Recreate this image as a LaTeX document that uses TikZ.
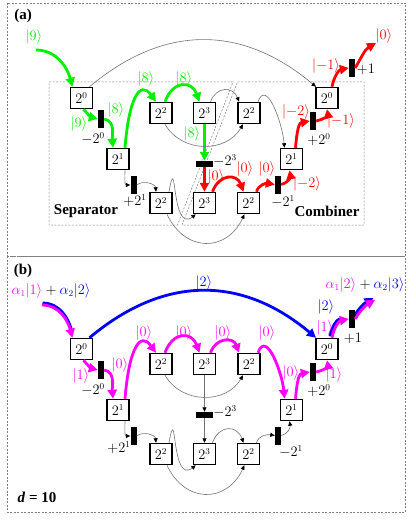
\documentclass[tikz,border=0pt]{standalone}
\usepackage{amsmath}
\usepackage{fontspec}
\newfontfamily\tagfont{Liberation Serif}
\usetikzlibrary{arrows.meta, positioning, calc, backgrounds}
\definecolor{pink}{RGB}{255,0,255}
\definecolor{lime}{RGB}{0,240,0}

\begin{document}
\begin{tikzpicture}[x=1pt, y=1pt,
    every node/.style={font=\fontsize{13.5}{16}\selectfont},
    stage/.style={draw, line width=1.5pt, fill=white, minimum width=22pt,
                  minimum height=21pt, inner sep=0pt},
    vbar/.style={fill=black, minimum width=6pt, minimum height=18pt, inner sep=0pt},
    hbar/.style={fill=black, minimum width=17pt, minimum height=6pt, inner sep=0pt},
    link/.style={black!55, line width=0.6pt, -{Triangle[length=4.5pt,width=4pt,black]}},
    beam/.style={line width=2.8pt, -{Triangle[length=9pt,width=9pt]}},
    panel/.style={black!50, line width=0.5pt, dash pattern=on 2pt off 1.5pt},
    tag/.style={font=\tagfont\bfseries\fontsize{15}{17}\selectfont},
    a-fwd/.style={beam, lime}, b-fwd/.style={beam, pink},
    a-down/.style={beam, lime}, b-down/.style={link},
    a-back/.style={beam, red}, b-back/.style={link},
    a-up/.style={beam, red}, b-up/.style={beam, pink},
    a-top/.style={link}, b-top/.style={beam, pink},
    a-big/.style={link}, b-big/.style={beam, blue}]

  \useasboundingbox (0,0) rectangle (415,-524);

  % frames
  \draw[panel] (7,-3) rectangle (405,-256);
  \draw[panel] (7,-256) rectangle (405,-512);
  \draw[panel] (49,-82) -- (233,-82) -- (177.5,-225) -- (49,-225) -- cycle;
  \draw[panel] (237.5,-82) -- (364,-82) -- (364,-225) -- (182,-225) -- cycle;

  \coordinate (a-in) at (36,-50);
  \coordinate (a-out) at (376,-43);
  \coordinate (b-in) at (42,-305);
  \coordinate (b-out) at (375,-300);

  % the same network in both panels
  \foreach \p/\dy in {a/0, b/251} {
    \begin{scope}[yshift=-\dy]
      \node[stage] (\p0) at (81.5,-98) {$2^0$};
      \node[stage] (\p1) at (118,-159) {$2^1$};
      \node[stage] (\p2) at (161,-113) {$2^2$};
      \node[stage] (\p3) at (204.5,-113) {$2^3$};
      \node[stage] (\p4) at (249,-113) {$2^2$};
      \node[stage] (\p5) at (291.5,-159) {$2^1$};
      \node[stage] (\p6) at (327,-98) {$2^0$};
      \node[stage] (\p7) at (161,-203) {$2^2$};
      \node[stage] (\p8) at (204.5,-203) {$2^3$};
      \node[stage] (\p9) at (248.5,-203) {$2^2$};
      \node[vbar] (\p-s0) at (101,-119) {};
      \node[vbar] (\p-s1) at (133.5,-185) {};
      \node[hbar] (\p-s3) at (204.5,-164) {};
      \node[vbar] (\p-s5) at (278,-184.5) {};
      \node[vbar] (\p-s6) at (313,-121) {};
      \node[vbar] (\p-s7) at (352,-68) {};
      \node (\p-l0) at (93,-139) {$-2^0$};
      \node (\p-l3) at (225,-161) {$-2^3$};
      \node (\p-l6) at (319,-140) {$+2^0$};
    \end{scope}
    \draw[\p-fwd] (\p-in) to[out=0,in=105] ([xshift=-9]\p0.north);
    \draw[\p-fwd] ([xshift=2]\p0.south) to[out=-50,in=165] (\p-s0.west);
    \draw[\p-fwd] (\p-s0.east) to[out=-10,in=95] ([xshift=-5]\p1.north);
    \draw[\p-fwd] ([xshift=7]\p1.north) .. controls +(4,50) and +(-16,22) .. ([xshift=-5]\p2.north);
    \draw[\p-fwd] ([xshift=4]\p2.north) to[out=70,in=110,looseness=1.7] ([xshift=-5]\p3.north);
    \draw[\p-down] (\p3) -- (\p-s3);
    \draw[\p-back] (\p-s3) -- (\p8);
    \draw[\p-back] ([xshift=8]\p8.north) to[out=70,in=110,looseness=1.6] ([xshift=-5]\p9.north);
    \draw[\p-back] ([xshift=8]\p9.north) to[out=75,in=170] (\p-s5.west);
    \draw[\p-back] (\p-s5.east) to[out=10,in=-80] ([xshift=-2]\p5.south);
    \draw[\p-up] ([xshift=4]\p5.north) to[out=85,in=190] (\p-s6.west);
    \draw[\p-up] (\p-s6.east) to[out=10,in=-80] (\p6.south);
    \draw[\p-up] ([xshift=5]\p6.north) to[out=80,in=190] (\p-s7.west);
    \draw[\p-up] (\p-s7.east) to[out=60,in=210] (\p-out);
    \draw[\p-top] ([xshift=6]\p3.north) to[out=70,in=110,looseness=1.5] ([xshift=-10]\p4.north);
    \draw[\p-top] ([xshift=9]\p4.north) to[out=70,in=95,looseness=1.2] ([xshift=-7]\p5.north);
    \draw[\p-big] ([xshift=8]\p0.north) to[out=40,in=140,looseness=1.1] ([xshift=-11]\p6.north);
    \draw[link] ([xshift=7]\p1.south) to[out=-90,in=180] (\p-s1.west);
    \draw[link] (\p-s1.east) to[out=40,in=95] ([xshift=-5]\p7.north);
    \draw[link] ([xshift=8]\p7.north) .. controls +(8,45) and +(-25,-20) .. ([xshift=3]\p8.south west);
    \draw[link] ([xshift=6]\p7.south) to[out=-65,in=-115,looseness=1.4] ([xshift=-4]\p9.south);
    \draw[link] ([xshift=4]\p2.south) to[out=-60,in=-120,looseness=1.1] ([xshift=-6]\p4.south);
  }

  % blue half of the superposition
  \begin{scope}[on background layer]
    \draw[beam, blue, -, shorten >=7pt, transform canvas={shift={(0.5,2)}}]
      (b-in) to[out=0,in=105] ([xshift=-9]b0.north);
    \draw[beam, blue, -, shorten >=7pt, transform canvas={shift={(-2,1.5)}}]
      ([xshift=5]b6.north) to[out=80,in=190] (b-s7.west);
    \draw[beam, blue, transform canvas={shift={(-1.5,2)}}]
      (b-s7.east) to[out=60,in=210] (b-out);
  \end{scope}

  % labels (a)
  \node[lime] (a-k0) at (34,-37) {$|9\rangle$};
  \node[lime] (a-k1) at (79,-124) {$|9\rangle$};
  \node[lime] (a-k2) at (116,-110) {$|8\rangle$};
  \node[lime] (a-k3) at (146,-79) {$|8\rangle$};
  \node[lime] (a-k4) at (184,-79) {$|8\rangle$};
  \node[lime] (a-k5) at (192,-134) {$|8\rangle$};
  \node[red] (a-k6) at (216,-177) {$|0\rangle$};
  \node[red] (a-k7) at (245,-169) {$|0\rangle$};
  \node[red] (a-k8) at (267,-169) {$|0\rangle$};
  \node[red] (a-k9) at (307,-184) {$|{-}2\rangle$};
  \node[red] (a-k10) at (296,-112) {$|{-}2\rangle$};
  \node[red] (a-k11) at (341,-121) {$|{-}1\rangle$};
  \node[red] (a-k12) at (326,-66) {$|{-}1\rangle$};
  \node[red] (a-k13) at (384,-36) {$|0\rangle$};
  \node (a-l1) at (135,-201) {$+2^1$};
  \node (a-l5) at (283,-202) {$-2^1$};
  \node (a-l7) at (366,-69) {$+1$};

  % labels (b)
  \node (b-k0) at (51,-291) {$\textcolor{pink}{\alpha_1|1\rangle}+\textcolor{blue}{\alpha_2|2\rangle}$};
  \node[pink] (b-k1) at (81,-376) {$|1\rangle$};
  \node[pink] (b-k2) at (120,-365) {$|0\rangle$};
  \node[pink] (b-k3) at (144,-333) {$|0\rangle$};
  \node[pink] (b-k4) at (184,-333) {$|0\rangle$};
  \node[pink] (b-k5) at (223,-333) {$|0\rangle$};
  \node[pink] (b-k6) at (267,-333) {$|0\rangle$};
  \node[pink] (b-k7) at (291,-373) {$|0\rangle$};
  \node[pink] (b-k8) at (334,-375) {$|1\rangle$};
  \node[pink] (b-k9) at (325,-328) {$|1\rangle$};
  \node[blue] (b-k10) at (326,-307) {$|2\rangle$};
  \node[blue] (b-k11) at (204,-283) {$|2\rangle$};
  \node (b-k12) at (365,-285) {$\textcolor{pink}{\alpha_1|2\rangle}+\textcolor{blue}{\alpha_2|3\rangle}$};
  \node (b-l1) at (119,-448) {$+2^1$};
  \node (b-l5) at (291,-452) {$-2^1$};
  \node (b-l7) at (353,-338) {$+1$};

  \node[tag] (a-tag) at (23,-16) {(a)};
  \node[tag] (b-tag) at (23,-271) {(b)};
  \node[tag] (sep) at (86,-211) {Separator};
  \node[tag] (comb) at (327,-211) {Combiner};
  \node[tag] (dim) at (37,-497) {\textit{d} = 10};
\end{tikzpicture}
\end{document}
